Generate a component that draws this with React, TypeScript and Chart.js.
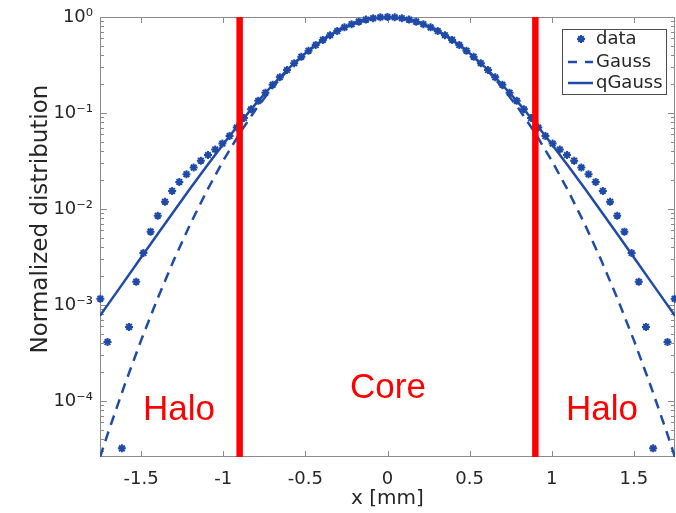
import React, { useEffect, useRef } from 'react';
import { Chart, registerables } from 'chart.js';

Chart.register(...registerables);

// ---------- data ----------
const dataX = [
  -1.748, -1.7043, -1.6606, -1.6169, -1.5732, -1.5295, -1.4858, -1.4421, -1.3984, -1.3547,
  -1.311, -1.2673, -1.2236, -1.1799, -1.1362, -1.0925, -1.0488, -1.0051, -0.9614, -0.9177,
  -0.874, -0.8303, -0.7866, -0.7429, -0.6992, -0.6555, -0.6118, -0.5681, -0.5244, -0.4807,
  -0.437, -0.3933, -0.3496, -0.3059, -0.2622, -0.2185, -0.1748, -0.1311, -0.0874, -0.0437,
  0,
  0.0437, 0.0874, 0.1311, 0.1748, 0.2185, 0.2622, 0.3059, 0.3496, 0.3933, 0.437,
  0.4807, 0.5244, 0.5681, 0.6118, 0.6555, 0.6992, 0.7429, 0.7866, 0.8303, 0.874,
  0.9177, 0.9614, 1.0051, 1.0488, 1.0925, 1.1362, 1.1799, 1.2236, 1.2673, 1.311,
  1.3547, 1.3984, 1.4421, 1.4858, 1.5295, 1.5732, 1.6169, 1.6606, 1.7043, 1.748,
];
const dataY: (number | null)[] = [
  0.00116, 0.00041, null, 0.000032, 0.00059, 0.00174, 0.00347, 0.0058, 0.0085, 0.0119,
  0.0154, 0.0191, 0.023, 0.027, 0.0318, 0.0364, 0.0417, 0.048, 0.0575, 0.0705,
  0.0886, 0.1092, 0.1337, 0.1626, 0.1964, 0.2355, 0.28, 0.33, 0.3855, 0.4457,
  0.5101, 0.5773, 0.646, 0.7143, 0.78, 0.8409, 0.8946, 0.9391, 0.9724, 0.993,
  1,
  0.993, 0.9724, 0.9391, 0.8946, 0.8409, 0.78, 0.7143, 0.646, 0.5773, 0.5101,
  0.4457, 0.3855, 0.33, 0.28, 0.2355, 0.1964, 0.1626, 0.1337, 0.1092, 0.0886,
  0.0705, 0.0575, 0.048, 0.0417, 0.0364, 0.0318, 0.027, 0.023, 0.0191, 0.0154,
  0.0119, 0.0085, 0.0058, 0.00347, 0.00174, 0.00059, 0.000032, null, 0.00041, 0.00116,
];

const curveX = [
  -1.75, -1.7, -1.6, -1.5, -1.4, -1.3, -1.2, -1.1, -1.0, -0.9, -0.8, -0.7, -0.6, -0.5, -0.4, -0.3, -0.2, -0.1,
  0,
  0.1, 0.2, 0.3, 0.4, 0.5, 0.6, 0.7, 0.8, 0.9, 1.0, 1.1, 1.2, 1.3, 1.4, 1.5, 1.6, 1.7, 1.75,
];
const gaussY = [
  2.59e-5, 4.7e-5, 1.465e-4, 4.268e-4, 1.16e-3, 2.945e-3, 6.975e-3, 0.01541, 0.03179, 0.06123,
  0.11, 0.1846, 0.289, 0.4223, 0.576, 0.7332, 0.8712, 0.9661,
  1,
  0.9661, 0.8712, 0.7332, 0.576, 0.4223, 0.289, 0.1846, 0.11,
  0.06123, 0.03179, 0.01541, 6.975e-3, 2.945e-3, 1.16e-3, 4.268e-4, 1.465e-4, 4.7e-5, 2.59e-5,
];
const qGaussY = [
  7.71e-4, 1.018e-3, 1.78e-3, 3.112e-3, 5.439e-3, 9.475e-3, 0.01639, 0.02806, 0.0473, 0.0782,
  0.1257, 0.1957, 0.293, 0.4186, 0.5669, 0.7233, 0.8646, 0.964,
  1,
  0.964, 0.8646, 0.7233, 0.5669, 0.4186, 0.293, 0.1957, 0.1257,
  0.0782, 0.0473, 0.02806, 0.01639, 9.475e-3, 5.439e-3, 3.112e-3, 1.78e-3, 1.018e-3, 7.71e-4,
];

const xTickValues = [-1.5, -1, -0.5, 0, 0.5, 1, 1.5];
const xTickLabels = ['-1.5', '-1', '-0.5', '0', '0.5', '1', '1.5'];
const yTickValues = [1e-4, 1e-3, 1e-2, 1e-1, 1];
const yTickLabels = ['10\u207B\u2074', '10\u207B\u00B3', '10\u207B\u00B2', '10\u207B\u00B9', '10\u2070'];
const coreBounds = [-0.9, 0.9];
const seriesNames = ['data', 'Gauss', 'qGauss'];
const regionLabels = ['Halo', 'Core', 'Halo'];

const X_MIN = -1.75;
const X_MAX = 1.75;
const Y_MIN = 2.6e-5;
const Y_MAX = 1;

const BLUE = '#1f4aa8';
const RED = '#ff0000';
const AXIS = '#8a8a8a';
const TEXT = '#262626';
const FONT = "'DejaVu Sans', sans-serif";

const decorPlugin = {
  id: 'matlabDecor',
  beforeDatasetsDraw(chart: any) {
    const { ctx, chartArea: a, scales } = chart;
    const x = scales.x;
    const y = scales.y;
    ctx.save();
    ctx.strokeStyle = AXIS;
    ctx.lineWidth = 1;
    ctx.strokeRect(a.left + 0.5, a.top + 0.5, a.right - a.left - 1, a.bottom - a.top - 1);
    ctx.beginPath();
    for (const v of xTickValues) {
      const px = Math.round(x.getPixelForValue(v)) + 0.5;
      ctx.moveTo(px, a.bottom);
      ctx.lineTo(px, a.bottom - 6);
      ctx.moveTo(px, a.top);
      ctx.lineTo(px, a.top + 6);
    }
    for (let e = -5; e <= 0; e++) {
      for (let m = 1; m <= 9; m++) {
        const v = m * Math.pow(10, e);
        if (v < Y_MIN || v > Y_MAX * 1.0001) continue;
        const len = m === 1 ? 7 : 4;
        const py = Math.round(y.getPixelForValue(v)) + 0.5;
        ctx.moveTo(a.left, py);
        ctx.lineTo(a.left + len, py);
        ctx.moveTo(a.right, py);
        ctx.lineTo(a.right - len, py);
      }
    }
    ctx.stroke();
    ctx.restore();
  },
  afterDraw(chart: any) {
    const { ctx } = chart;
    ctx.save();
    // region labels
    ctx.fillStyle = RED;
    ctx.font = "35px 'Liberation Sans', Arial, sans-serif";
    ctx.textAlign = 'center';
    ctx.textBaseline = 'alphabetic';
    const pos = [
      [179, 420],
      [388, 398],
      [602, 420],
    ];
    regionLabels.forEach((t, i) => ctx.fillText(t, pos[i][0], pos[i][1]));

    // y axis title
    ctx.fillStyle = TEXT;
    ctx.font = `23px ${FONT}`;
    ctx.translate(41, 219);
    ctx.rotate(-Math.PI / 2);
    ctx.textAlign = 'center';
    ctx.textBaseline = 'middle';
    ctx.fillText('Normalized distribution', 0, 0);
    ctx.setTransform(1, 0, 0, 1, 0, 0);

    // legend
    const bx = 562.5, by = 29.5, bw = 104, bh = 65;
    ctx.fillStyle = '#ffffff';
    ctx.fillRect(bx, by, bw, bh);
    ctx.strokeStyle = '#4d4d4d';
    ctx.lineWidth = 1;
    ctx.strokeRect(bx, by, bw, bh);
    const rows = [39, 62, 83];
    // star
    ctx.strokeStyle = BLUE;
    ctx.lineWidth = 2;
    const sx = 581, sy = rows[0], r = 4;
    ctx.beginPath();
    ctx.moveTo(sx - r, sy); ctx.lineTo(sx + r, sy);
    ctx.moveTo(sx, sy - r); ctx.lineTo(sx, sy + r);
    const d = r * Math.SQRT1_2;
    ctx.moveTo(sx - d, sy - d); ctx.lineTo(sx + d, sy + d);
    ctx.moveTo(sx - d, sy + d); ctx.lineTo(sx + d, sy - d);
    ctx.stroke();
    // dashed
    ctx.lineWidth = 2.5;
    ctx.beginPath();
    ctx.moveTo(568, rows[1]); ctx.lineTo(577, rows[1]);
    ctx.moveTo(585, rows[1]); ctx.lineTo(593, rows[1]);
    ctx.stroke();
    // solid
    ctx.beginPath();
    ctx.moveTo(568, rows[2]); ctx.lineTo(593, rows[2]);
    ctx.stroke();
    ctx.fillStyle = TEXT;
    ctx.font = `18px ${FONT}`;
    ctx.textAlign = 'left';
    ctx.textBaseline = 'middle';
    seriesNames.forEach((n, i) => ctx.fillText(n, 596, rows[i]));
    ctx.restore();
  },
};

export default function App() {
  const ref = useRef<HTMLCanvasElement | null>(null);
  useEffect(() => {
    if (!ref.current) return;
    const pts = (xs: number[], ys: (number | null)[]) => xs.map((x, i) => ({ x, y: ys[i] }));
    const chart = new Chart(ref.current, {
      type: 'scatter',
      data: {
        datasets: [
          {
            label: 'coreLeft',
            data: [{ x: coreBounds[0], y: Y_MIN }, { x: coreBounds[0], y: Y_MAX }],
            showLine: true,
            borderColor: RED,
            borderWidth: 6.5,
            pointRadius: 0,
            order: 0,
          },
          {
            label: 'coreRight',
            data: [{ x: coreBounds[1], y: Y_MIN }, { x: coreBounds[1], y: Y_MAX }],
            showLine: true,
            borderColor: RED,
            borderWidth: 6.5,
            pointRadius: 0,
            order: 0,
          },
          {
            label: seriesNames[0],
            data: pts(dataX, dataY) as any,
            pointStyle: 'star',
            pointRadius: 4,
            pointBorderWidth: 2,
            borderColor: BLUE,
            backgroundColor: BLUE,
            showLine: false,
            clip: false as any,
            order: 3,
          },
          {
            label: seriesNames[1],
            data: pts(curveX, gaussY),
            showLine: true,
            borderColor: BLUE,
            borderWidth: 2.5,
            borderDash: [10, 7],
            pointRadius: 0,
            order: 2,
          },
          {
            label: seriesNames[2],
            data: pts(curveX, qGaussY),
            showLine: true,
            borderColor: BLUE,
            borderWidth: 2.5,
            pointRadius: 0,
            order: 1,
          },
        ],
      },
      options: {
        responsive: false,
        devicePixelRatio: 1,
        animation: false,
        layout: { autoPadding: false, padding: { top: 17, right: 1, left: 0, bottom: 0 } },
        plugins: {
          legend: { display: false },
          tooltip: { enabled: false },
        },
        scales: {
          x: {
            type: 'linear',
            min: X_MIN,
            max: X_MAX,
            grid: { display: false, drawTicks: false },
            border: { display: false },
            afterBuildTicks: (s: any) => {
              s.ticks = xTickValues.map((v) => ({ value: v }));
            },
            afterFit: (s: any) => {
              s.height = 56;
              s.paddingLeft = 0;
              s.paddingRight = 0;
            },
            ticks: {
              padding: 12,
              color: TEXT,
              font: { family: FONT, size: 18 },
              callback: (_v: any, i: number) => xTickLabels[i],
              maxRotation: 0,
              autoSkip: false,
            },
            title: {
              display: true,
              text: 'x [mm]',
              color: TEXT,
              font: { family: FONT, size: 20 },
              padding: { top: 0, bottom: 2 },
            },
          },
          y: {
            type: 'logarithmic',
            min: Y_MIN,
            max: Y_MAX,
            grid: { display: false, drawTicks: false },
            border: { display: false },
            afterBuildTicks: (s: any) => {
              s.ticks = yTickValues.map((v) => ({ value: v, major: true }));
            },
            afterFit: (s: any) => {
              s.width = 100;
              s.paddingTop = 0;
              s.paddingBottom = 0;
            },
            ticks: {
              padding: 7,
              color: TEXT,
              font: { family: FONT, size: 18 },
              callback: (_v: any, i: number) => yTickLabels[i],
              autoSkip: false,
            },
          },
        },
      },
      plugins: [decorPlugin],
    } as any);
    return () => chart.destroy();
  }, []);
  return (
    <div style={{ position: 'absolute', left: 0, top: 0, width: 676, height: 513, background: '#fff' }}>
      <canvas ref={ref} width={676} height={513} style={{ display: 'block' }} />
    </div>
  );
}
